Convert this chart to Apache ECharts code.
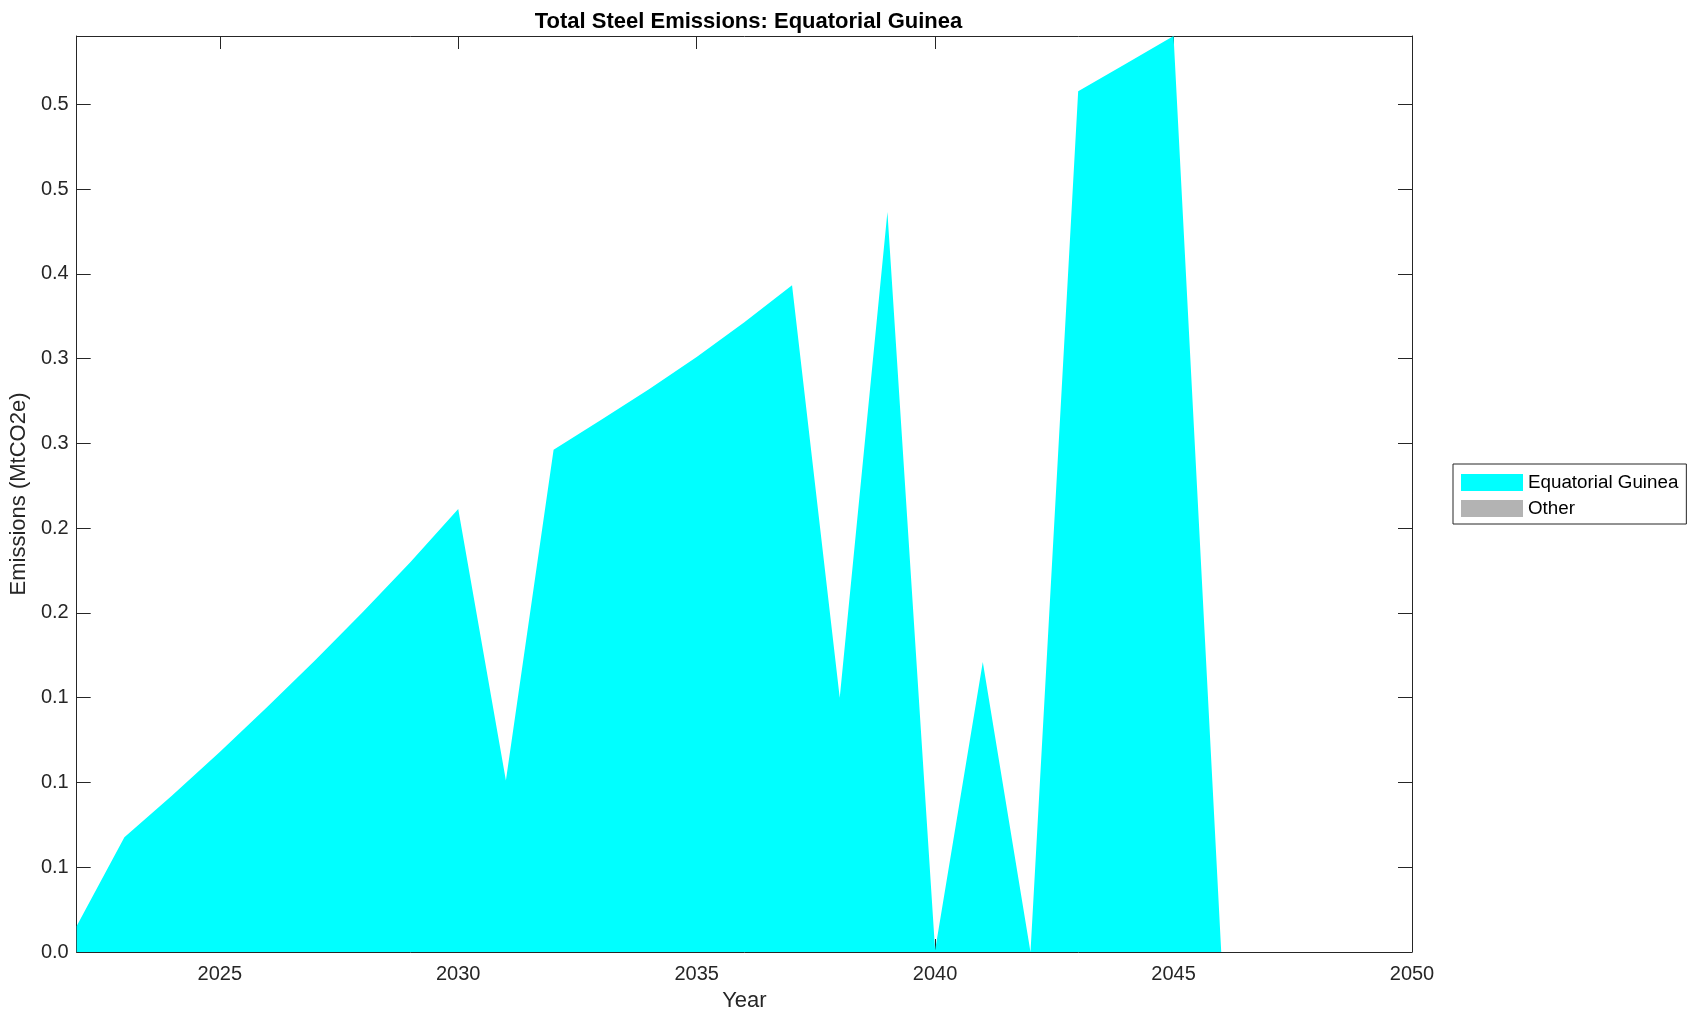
<!DOCTYPE html>
<html>
<head>
<meta charset="utf-8">
<script src="https://cdn.jsdelivr.net/npm/echarts@6/dist/echarts.min.js"></script>
<style>
html,body{margin:0;padding:0;background:#fff;}
#chart{width:1698px;height:1021px;}
</style>
</head>
<body>
<div id="chart"></div>
<script>
// ---- data ----
var years = [2022,2023,2024,2025,2026,2027,2028,2029,2030,2031,2032,2033,2034,2035,2036,2037,2038,2039,2040,2041,2042,2043,2044,2045,2046,2047,2048,2049,2050];
var equatorialGuinea = [0.0153,0.0677,0.0923,0.1179,0.1446,0.1721,0.2006,0.2301,0.2613,0.1011,0.2963,0.3140,0.3320,0.3510,0.3715,0.3933,0.1500,0.4365,0.0010,0.1710,0.0000,0.5077,0.5240,0.5403,0.0000,0,0,0,0];
var other = [0,0,0,0,0,0,0,0,0,0,0,0,0,0,0,0,0,0,0,0,0,0,0,0,0,0,0,0,0];
var xTicks = [2025,2030,2035,2040,2045,2050];
var yTicks = [0,0.05,0.10,0.15,0.20,0.25,0.30,0.35,0.40,0.45,0.50];
var yTickLabels = ['0.0','0.1','0.1','0.1','0.2','0.2','0.3','0.3','0.4','0.5','0.5'];
var seriesNames = ['Equatorial Guinea','Other'];
var yMax = 0.5403;

function pairs(xs, ys){ return xs.map(function(x,i){ return [x, ys[i]]; }); }

var FONT = 'Liberation Sans, Arial, Helvetica, sans-serif';
var AX = '#262626';

var chart = echarts.init(document.getElementById('chart'), null, {renderer:'canvas'});
chart.setOption({
  animation:false,
  backgroundColor:'#ffffff',
  title:{
    text:'Total Steel Emissions: Equatorial Guinea',
    left:743.5, top:6, textAlign:'center',
    textStyle:{fontFamily:FONT, fontSize:22, fontWeight:'bold', color:'#000'}
  },
  grid:{left:75, right:286, top:36, bottom:69, containLabel:false},
  legend:{
    orient:'vertical', left:1453, top:464,
    data:seriesNames,
    icon:'rect', itemWidth:62, itemHeight:17, itemGap:7,
    padding:[9,8,6,8],
    borderColor:AX, borderWidth:1, backgroundColor:'#fff',
    itemStyle:{borderWidth:0},
    textStyle:{fontFamily:FONT, fontSize:18.8, color:'#000'}
  },
  xAxis:[{
    type:'value', min:2022, max:2050, position:'bottom',
    name:'Year', nameLocation:'middle', nameGap:38,
    nameTextStyle:{fontFamily:FONT, fontSize:22, color:AX},
    axisLine:{onZero:false, lineStyle:{color:AX, width:1}},
    axisTick:{inside:true, length:13, customValues:xTicks, lineStyle:{color:AX}},
    axisLabel:{customValues:xTicks, margin:12, fontFamily:FONT, fontSize:20, color:AX,
      formatter:function(v){ return String(Math.round(v)); }},
    splitLine:{show:false}
  },{
    type:'value', min:2022, max:2050, position:'top',
    axisLine:{onZero:false, lineStyle:{color:AX, width:1}},
    axisTick:{inside:true, length:13, customValues:xTicks, lineStyle:{color:AX}},
    axisLabel:{show:false},
    splitLine:{show:false}
  }],
  yAxis:[{
    type:'value', min:0, max:yMax, position:'left',
    name:'Emissions (MtCO2e)', nameLocation:'middle', nameGap:41, nameRotate:90,
    nameTextStyle:{fontFamily:FONT, fontSize:22, color:AX},
    axisLine:{show:true, onZero:false, lineStyle:{color:AX, width:1}},
    axisTick:{show:true, inside:true, length:14, customValues:yTicks, lineStyle:{color:AX}},
    axisLabel:{customValues:yTicks, margin:8, fontFamily:FONT, fontSize:20, color:AX,
      formatter:function(v){ var i=Math.round(v/0.05); return yTickLabels[i]!==undefined?yTickLabels[i]:''; }},
    splitLine:{show:false}
  },{
    type:'value', min:0, max:yMax, position:'right',
    axisLine:{show:true, onZero:false, lineStyle:{color:AX, width:1}},
    axisTick:{show:true, inside:true, length:14, customValues:yTicks, lineStyle:{color:AX}},
    axisLabel:{show:false},
    splitLine:{show:false}
  }],
  series:[{
    name:'Other', type:'line', xAxisIndex:0, yAxisIndex:0,
    data:pairs(years, other), showSymbol:false, symbol:'none', z:1,
    itemStyle:{color:'#b3b3b3'},
    lineStyle:{width:0, opacity:0},
    areaStyle:{color:'#b3b3b3', opacity:1}
  },{
    name:'Equatorial Guinea', type:'line', xAxisIndex:0, yAxisIndex:0,
    data:pairs(years, equatorialGuinea), showSymbol:false, symbol:'none', z:2,
    itemStyle:{color:'#00ffff'},
    lineStyle:{width:0, opacity:0},
    areaStyle:{color:'#00ffff', opacity:1}
  }]
});
</script>
</body>
</html>
